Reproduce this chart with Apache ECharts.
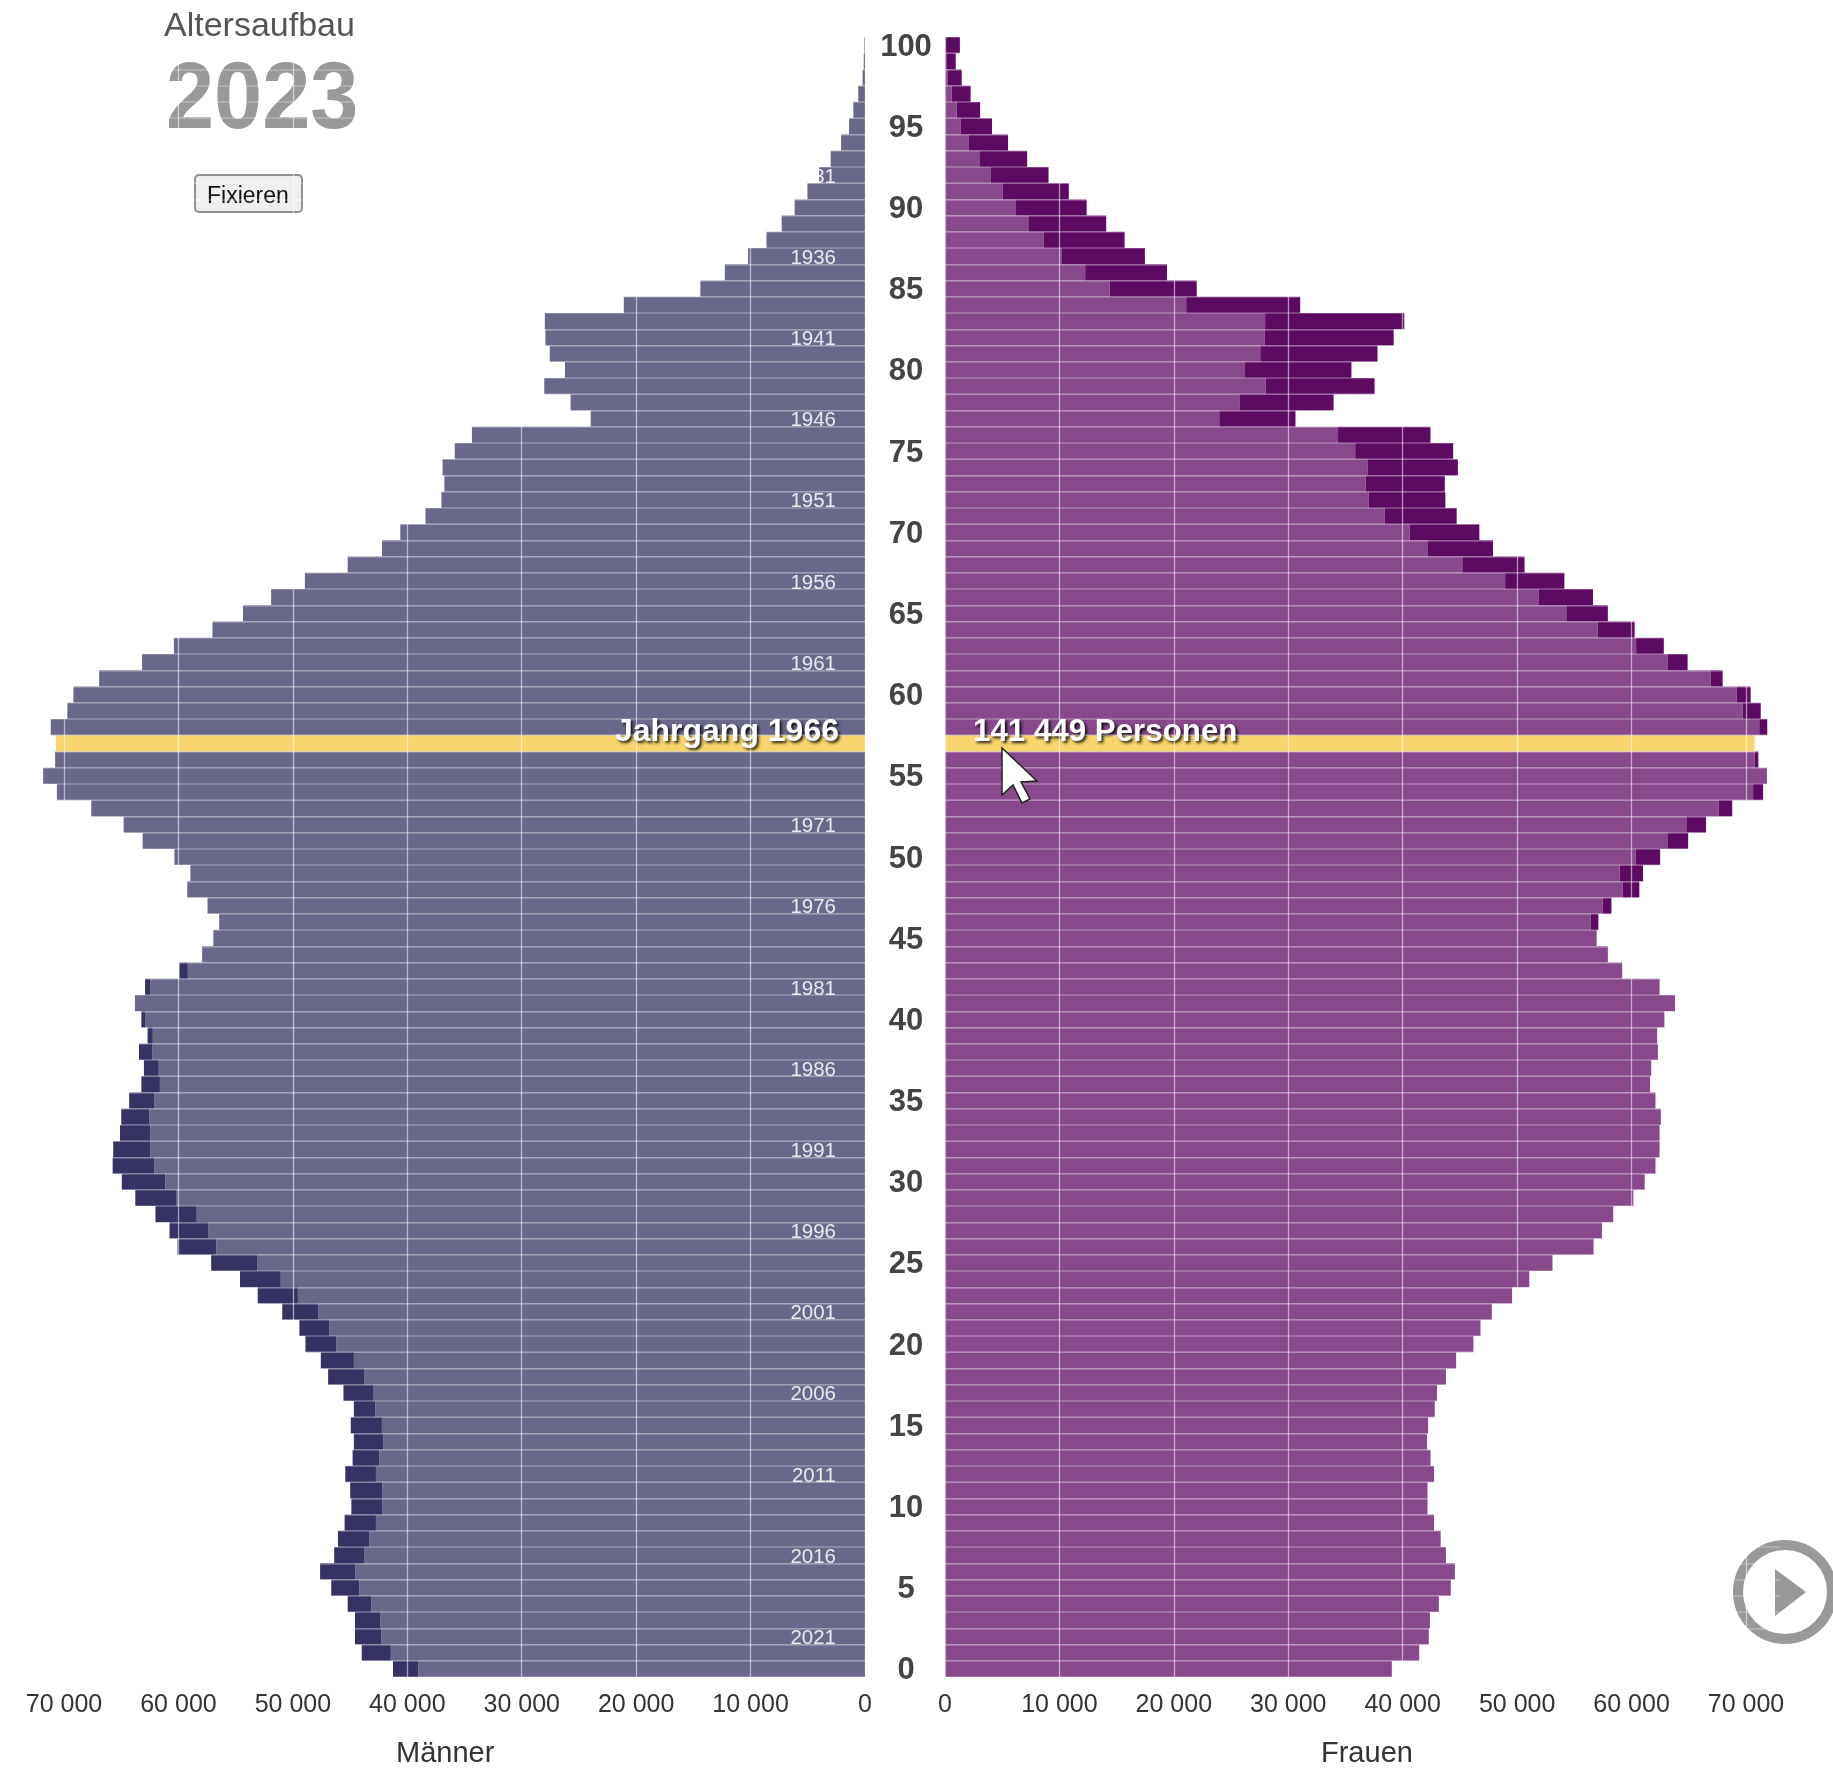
<!DOCTYPE html>
<html>
<head>
<meta charset="utf-8">
<title>Altersaufbau 2023</title>
<script src="https://cdn.jsdelivr.net/npm/echarts@6/dist/echarts.min.js"></script>
<style>
  html, body { margin: 0; padding: 0; background: #fff; }
  #chart { width: 1833px; height: 1770px; }
</style>
</head>
<body>
<div id="chart"></div>
<script>
// ages 0..100
const ages = [0,1,2,3,4,5,6,7,8,9,10,11,12,13,14,15,16,17,18,19,20,21,22,23,24,25,26,27,28,29,30,31,32,33,34,35,36,37,38,39,40,41,42,43,44,45,46,47,48,49,50,51,52,53,54,55,56,57,58,59,60,61,62,63,64,65,66,67,68,69,70,71,72,73,74,75,76,77,78,79,80,81,82,83,84,85,86,87,88,89,90,91,92,93,94,95,96,97,98,99,100]
const men = [
  41250,43980,44570,44570,45210,46650,47620,46390,46060,45480,
  44890,44990,45420,44780,44670,44940,44670,45580,46920,47560,
  48900,49430,50930,53070,54620,57140,60080,60780,62010,63770,
  64950,65750,65700,65110,65000,64310,63240,63020,63450,62700,
  63240,63800,62920,59920,57930,56950,56440,57460,59230,58960,
  60350,63130,64790,67620,70620,71830,70780,70700,71160,69710,
  69180,66930,63180,60400,57030,54360,51900,48950,45210,42210,
  40610,38410,37020,36760,36920,35850,34350,23970,25730,28030,
  26220,27550,27930,27980,21080,14390,12250,10220,8610,7280,
  6150,5030,4010,3000,2090,1390,1020,590,210,110,50
]
const women = [
  39050,41440,42280,42380,43160,44200,44560,43780,43320,42740,
  42170,42170,42740,42430,42120,42220,42800,43000,43780,44670,
  46180,46800,47790,49560,51060,53090,56680,57410,58400,60160,
  61150,62090,62450,62450,62560,62090,61620,61720,62300,62240,
  62870,63800,62450,59180,57930,56950,57100,58240,60680,61000,
  62500,64950,66510,68800,71500,71830,71080,70749,71860,71290,
  70410,67960,64900,62820,60270,57930,56630,54130,50650,47890,
  46700,44720,43730,43680,44820,44410,42430,30630,33960,37540,
  35520,37800,39210,40140,31040,22000,19400,17470,15700,14090,
  12380,10820,9050,7180,5510,4110,3070,2240,1460,940,1300
]
const year = 2023
const highlightAge = 57
const birthYears = ages.map(a => String(year - a))

const FONT = '"Liberation Sans", Arial, sans-serif'
const MEN_LIGHT = '#69688a'
const MEN_DARK = '#373264'
const WOMEN_LIGHT = '#87488c'
const WOMEN_DARK = '#5d0a63'
const HIGHLIGHT = '#f8d66d'

function fmt(v) {
  return String(v).replace(/\B(?=(\d{3})+$)/g, ' ')
}

// common part is light, the surplus of one sex over the other is dark
function barData(own, other, color, label) {
  return own.map((v, i) => {
    const val = label === undefined ? Math.max(v - other[i], 0) : Math.min(v, other[i])
    if (ages[i] !== highlightAge) return val
    const item = { value: val, itemStyle: { color: HIGHLIGHT } }
    if (label) item.label = label
    return item
  })
}

const bigLabel = {
  show: true,
  color: '#fff',
  fontFamily: FONT,
  fontWeight: 'bold',
  textShadowColor: 'rgba(0,0,0,0.85)',
  textShadowBlur: 3,
  textShadowOffsetX: 2,
  textShadowOffsetY: 2
}

// white lines between the rows, only visible on top of the bars
const rowLine = { show: true, interval: 0, lineStyle: { color: 'rgba(255,255,255,0.3)', width: 1.5 } }

function xAxisFor(gridIndex, inverse) {
  return {
    type: 'value',
    gridIndex: gridIndex,
    inverse: inverse,
    min: 0,
    max: 73000,
    interval: 10000,
    z: 3,
    axisLine: { show: false },
    axisTick: { show: false },
    axisLabel: {
      formatter: fmt,
      margin: 16,
      showMaxLabel: false,
      color: '#333',
      fontFamily: FONT,
      fontSize: 25
    },
    splitLine: { show: true, showMaxLine: false, lineStyle: { color: 'rgba(255,255,255,0.55)', width: 1.3 } }
  }
}

const chart = echarts.init(document.getElementById('chart'))
chart.setOption({
  animation: false,
  backgroundColor: '#fff',
  grid: [
    { left: 29.7, top: 37, width: 835.3, height: 1640 },
    { left: 945, top: 37, width: 835.3, height: 1640 }
  ],
  xAxis: [xAxisFor(0, true), xAxisFor(1, false)],
  yAxis: [
    {
      type: 'category',
      gridIndex: 0,
      position: 'right',
      z: 3,
      data: ages,
      axisLine: { show: false },
      axisTick: { show: false },
      splitLine: rowLine,
      axisLabel: {
        interval: 4,
        margin: 41,
        align: 'center',
        formatter: '{a|{value}}',
        rich: {
          a: {
            padding: [4, 0, 0, 0],
            color: '#444',
            fontFamily: FONT,
            fontWeight: 'bold',
            fontSize: 31
          }
        }
      }
    },
    {
      type: 'category',
      gridIndex: 0,
      position: 'right',
      z: 3,
      data: birthYears,
      axisLine: { show: false },
      axisTick: { show: false },
      axisLabel: {
        inside: true,
        margin: 29,
        interval: (i) => ages[i] % 5 === 2 && ages[i] !== highlightAge,
        formatter: '{a|{value}}',
        rich: {
          a: {
            padding: [4, 0, 0, 0],
            color: 'rgba(255,255,255,0.85)',
            fontFamily: FONT,
            fontSize: 20.5
          }
        }
      }
    },
    {
      type: 'category',
      gridIndex: 1,
      z: 3,
      data: ages,
      axisLine: { show: false },
      axisTick: { show: false },
      splitLine: rowLine,
      axisLabel: { show: false }
    }
  ],
  series: [
    {
      name: 'Männer',
      type: 'bar',
      xAxisIndex: 0,
      yAxisIndex: 0,
      stack: 'm',
      barCategoryGap: '0%',
      itemStyle: { color: MEN_LIGHT },
      data: barData(men, women, MEN_LIGHT, Object.assign({}, bigLabel, {
        position: 'insideRight',
        distance: 26,
        offset: [0, -11],
        fontSize: 32,
        formatter: 'Jahrgang ' + (year - highlightAge)
      }))
    },
    {
      name: 'Männer Überschuss',
      type: 'bar',
      xAxisIndex: 0,
      yAxisIndex: 0,
      stack: 'm',
      barCategoryGap: '0%',
      itemStyle: { color: MEN_DARK },
      data: barData(men, women, MEN_DARK)
    },
    {
      name: 'Frauen',
      type: 'bar',
      xAxisIndex: 1,
      yAxisIndex: 2,
      stack: 'w',
      barCategoryGap: '0%',
      itemStyle: { color: WOMEN_LIGHT },
      data: barData(women, men, WOMEN_LIGHT, Object.assign({}, bigLabel, {
        position: 'insideLeft',
        distance: 28,
        offset: [0, -11],
        fontSize: 31.3,
        formatter: '141 449 Personen'
      }))
    },
    {
      name: 'Frauen Überschuss',
      type: 'bar',
      xAxisIndex: 1,
      yAxisIndex: 2,
      stack: 'w',
      barCategoryGap: '0%',
      itemStyle: { color: WOMEN_DARK },
      data: barData(women, men, WOMEN_DARK)
    }
  ],
  graphic: [
    { type: 'text', left: 164, top: 10, style: { text: 'Altersaufbau', fill: '#555', font: '34px ' + FONT } },
    {
      type: 'text', x: 166, y: 55, scaleX: 0.92,
      style: { text: String(year), fill: '#999', font: 'bold 94px ' + FONT }
    },
    {
      type: 'rect', shape: { x: 195, y: 175, width: 107, height: 37, r: 4 },
      style: { fill: '#efefef', stroke: '#8f8f8f', lineWidth: 2 }
    },
    { type: 'text', left: 207, top: 185, style: { text: 'Fixieren', fill: '#111', font: '23px ' + FONT } },
    { type: 'text', left: 396, top: 1739, style: { text: 'Männer', fill: '#333', font: '29px ' + FONT } },
    { type: 'text', left: 1321, top: 1739, style: { text: 'Frauen', fill: '#333', font: '29px ' + FONT } },
    // mouse pointer
    {
      type: 'polygon', z: 100,
      shape: { points: [[1002, 748], [1002, 795], [1013, 785], [1022, 803], [1030, 799], [1021, 782], [1037, 781]] },
      style: { fill: '#fff', stroke: '#222', lineWidth: 1.5 }
    },
    // play button
    {
      type: 'circle', shape: { cx: 1785, cy: 1592, r: 47 },
      style: { fill: 'none', stroke: '#999', lineWidth: 10 }
    },
    {
      type: 'polygon',
      shape: { points: [[1775, 1569], [1806, 1592], [1775, 1616]] },
      style: { fill: '#999' }
    }
  ]
})
</script>
</body>
</html>
